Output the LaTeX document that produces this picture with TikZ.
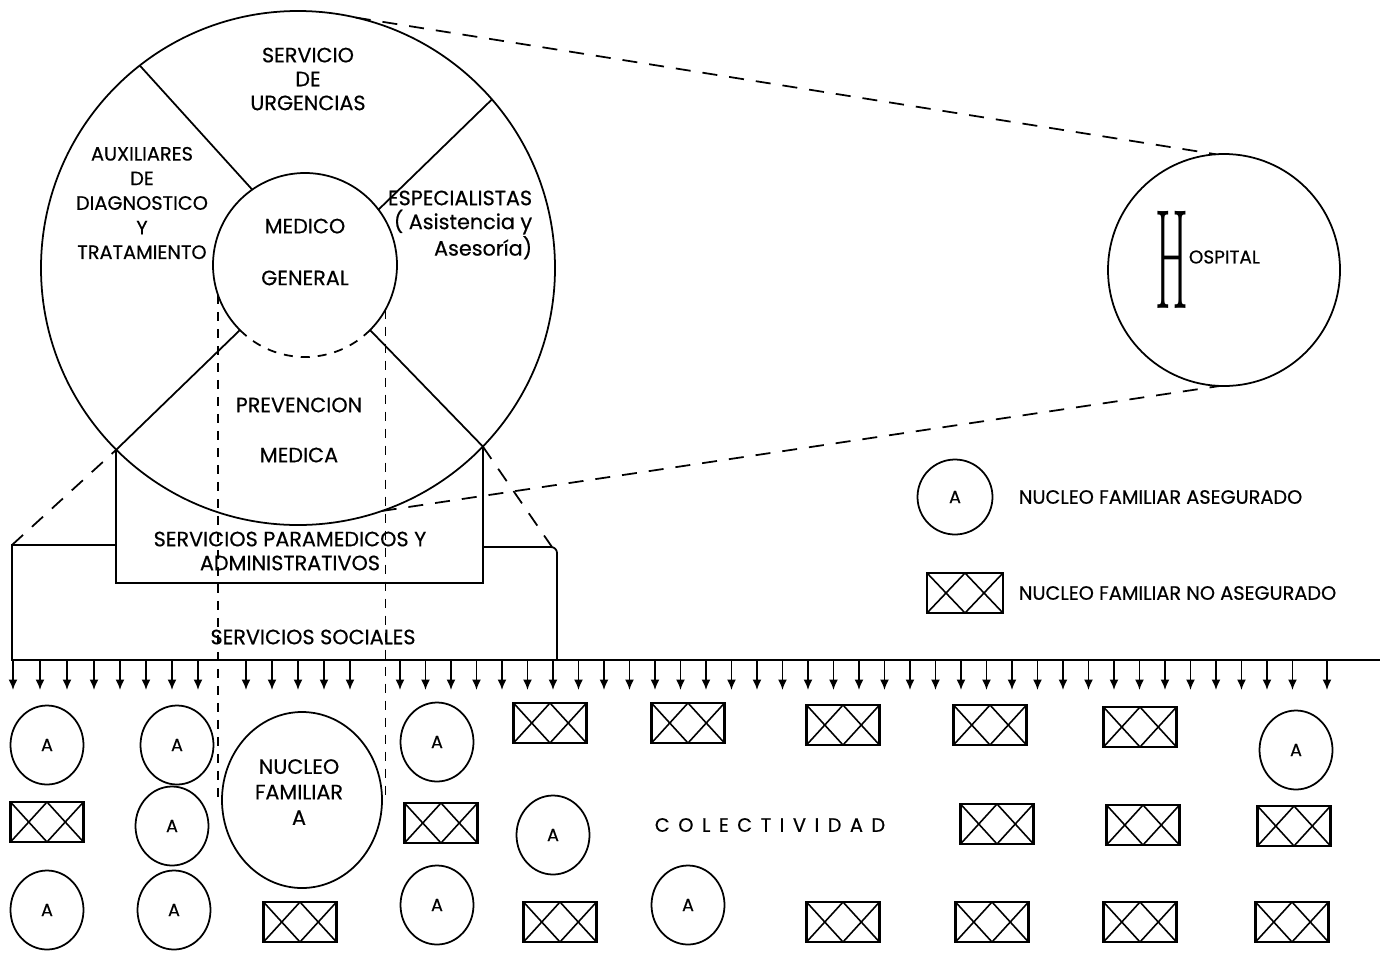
\documentclass[tikz,border=0pt]{standalone}
\usepackage{fontspec}
\usepackage{graphicx}
\newfontfamily\popfont[FakeBold=0.5]{Poppins}
\newfontfamily\popwide[LetterSpace=44,FakeBold=0.5]{Poppins}
\usetikzlibrary{arrows.meta,calc,shapes.geometric}
\tikzset{
  lbl/.style={font=\popfont\fontsize{11.8}{13.6}\selectfont,align=center,inner sep=0pt},
  fama/.style={ellipse,draw,line width=1pt,minimum width=14.6mm,minimum height=15.8mm,inner sep=0pt,
    font=\popfont\fontsize{10}{12}\selectfont},
  famx/.style={rectangle,draw,line width=1.4pt,minimum width=14.6mm,minimum height=8mm,inner sep=0pt,
    path picture={\draw[line width=0.9pt] (path picture bounding box.north west) -- (path picture bounding box.south)
      -- (path picture bounding box.north east) (path picture bounding box.south west)
      -- (path picture bounding box.north) -- (path picture bounding box.south east);}},
  tube/.style={dash pattern=on 1.8mm off 1.6mm},
  proj/.style={dash pattern=on 3mm off 2.4mm},
  drop/.style={-{Latex[length=2.1mm,width=1.8mm]}},
}
\begin{document}
\begin{tikzpicture}[x=0.2mm,y=-0.2mm,line width=1pt]
  \useasboundingbox (0,0) rectangle (1392,958);
  \node[circle,draw,minimum size=102.8mm,inner sep=0pt,outer sep=0pt] (ring) at (298,268) {};
  \node[circle,minimum size=36.8mm,inner sep=0pt,outer sep=0pt] (medico) at (305,265) {};
  \node[circle,draw,minimum size=46.4mm,inner sep=0pt,outer sep=0pt] (hosp) at (1224,270) {};
  \node[ellipse,draw,minimum width=32mm,minimum height=35.2mm,inner sep=0pt,outer sep=0pt] (nucleo) at (302,800) {};
  \coordinate (pl) at (ring.225);
  \coordinate (pr) at (ring.316);
  \coordinate (pb) at (0,583);

  \draw (medico.315) arc[start angle=-45,end angle=225,radius=18.4mm];
  \draw[tube] (medico.225) arc[start angle=225,end angle=315,radius=18.4mm];
  \draw (ring.128) -- (medico.125);
  \draw (ring.41) -- (medico.37);
  \draw (medico.225) -- (pl);
  \draw (medico.315) -- (pr);

  \draw (pl) -- (pl |- pb) -- (pr |- pb) -- (pr);
  \draw (pl |- 0,545) -| (12,660) -- (1380,660);
  \draw[rounded corners=1.2mm] (pr |- 0,547) -| (557,660);

  \draw[proj] (12,545) -- (pl);
  \draw[proj] (pr) -- (552,547);
  \draw[proj] (ring.77) -- (hosp.94);
  \draw[proj] (ring.289) -- (hosp.268);
  \draw[tube] (medico.199) -- (medico.199 |- nucleo.west);
  \draw[tube] (medico.331) -- (medico.331 |- nucleo.east);

  \foreach \x in {13,40,67,94,120,146,172,198,246,272,298,324,350,1327}
    \draw[drop] (\x,660) -- ++(0,30);
  \foreach \k in {0,...,35}
    \draw[drop] ({400+25.5*\k},660) -- ++(0,30);

  \node[lbl] (urg) at (308,79) {SERVICIO\\DE\\URGENCIAS};
  \node[lbl,font=\popfont\fontsize{11}{14}\selectfont] (aux) at (142,203) {AUXILIARES\\DE\\DIAGNOSTICO\\Y\\TRATAMIENTO};
  \node[lbl,align=right,anchor=east] (esp) at (533,225) {ESPECIALISTAS\\( Asistencia y\\Asesoría)};
  \node[lbl,font=\popfont\fontsize{11.8}{29.5}\selectfont] (mg) at (305,252) {MEDICO\\GENERAL};
  \node[lbl,font=\popfont\fontsize{11.8}{28.5}\selectfont] (prev) at (299,430) {PREVENCION\\MEDICA};
  \node[lbl] (para) at (290,551) {SERVICIOS PARAMEDICOS Y\\ADMINISTRATIVOS};
  \node[lbl] (soc) at (313,637) {SERVICIOS SOCIALES};
  \node[lbl,font=\popfont\fontsize{11.8}{14.5}\selectfont] (nuct) at (299,792) {NUCLEO\\FAMILIAR\\A};
  \node[lbl,font=\popwide\fontsize{11}{13}\selectfont] (colec) at (770,825) {COLECTIVIDAD};

  \node[inner sep=0pt] (hH) at (1172,260) {\fontsize{27}{27}\selectfont\scalebox{1}[3]{H}};
  \node[lbl,anchor=west,font=\popfont\fontsize{10.5}{12}\selectfont] (ospital) at (1188,257) {OSPITAL};

  \node[fama,minimum width=15mm,minimum height=15mm] (legA) at (955,497) {A};
  \node[lbl,anchor=west,font=\popfont\fontsize{11}{13}\selectfont] (legAt) at (1018,497) {NUCLEO FAMILIAR ASEGURADO};
  \node[famx,minimum width=15.2mm] (legX) at (965,593) {};
  \node[lbl,anchor=west,font=\popfont\fontsize{11}{13}\selectfont] (legXt) at (1018,593) {NUCLEO FAMILIAR NO ASEGURADO};

  \foreach \x/\y [count=\i] in {47/745,177/745,437/742,1296/750,172/826,553/835,47/910,174/910,437/905,688/905}
    \node[fama] (fa\i) at (\x,\y) {A};
  \foreach \x/\y [count=\i] in {550/723,688/723,843/725,990/725,1140/727,47/822,441/823,997/824,1143/825,1294/826,300/922,560/922,843/922,992/922,1140/922,1292/922}
    \node[famx] (fx\i) at (\x,\y) {};
\end{tikzpicture}
\end{document}
